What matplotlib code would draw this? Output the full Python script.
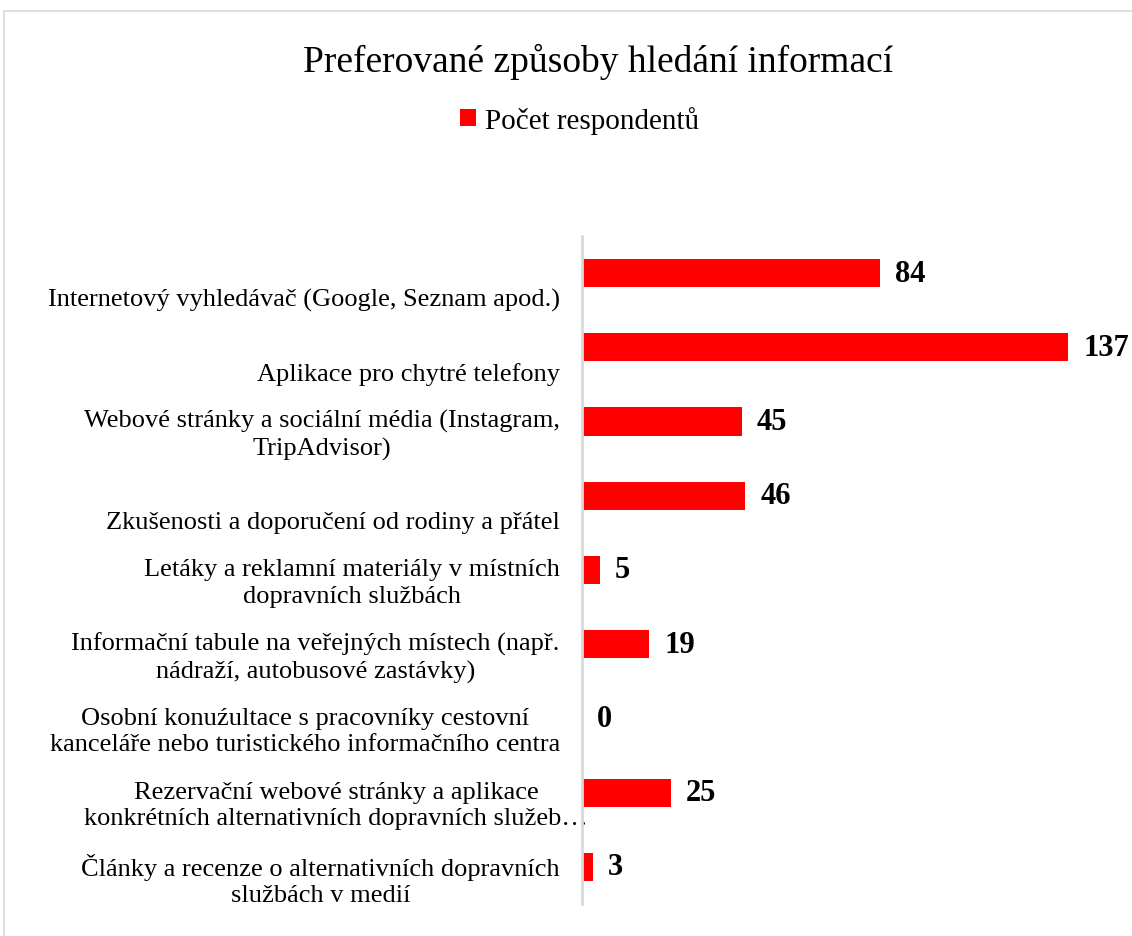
import matplotlib.pyplot as plt
import matplotlib.transforms as mtransforms
from matplotlib.patches import Rectangle

plt.rcParams['font.family'] = ['Liberation Serif', 'DejaVu Serif']

# data
categories = [
    "\nInternetový vyhledávač (Google, Seznam apod.)",
    "\nAplikace pro chytré telefony",
    "Webové stránky a sociální média (Instagram,\nTripAdvisor)",
    "\nZkušenosti a doporučení od rodiny a přátel",
    "Letáky a reklamní materiály v místních\ndopravních službách",
    "Informační tabule na veřejných místech (např.\nnádraží, autobusové zastávky)",
    "Osobní konuźultace s pracovníky cestovní\nkanceláře nebo turistického informačního centra",
    "Rezervační webové stránky a aplikace\nkonkrétních alternativních dopravních služeb…",
    "Články a recenze o alternativních dopravních\nslužbách v medií",
]
values = [84, 137, 45, 46, 5, 19, 0, 25, 3]
series_name = "Počet respondentů"
title = "Preferované způsoby hledání informací"

fig = plt.figure(figsize=(11.32, 9.37), dpi=100)
ax = fig.add_axes([582/1132, 1-905/937, 1-582/1132, (905-237)/937])

# chart border
fig.patches.append(Rectangle((4/1132, -0.1), 2, 1.1 - 12/937, transform=fig.transFigure,
                             fill=False, edgecolor='#d9d9d9', linewidth=1.2))

pos = list(range(len(values)))
bars = ax.barh(pos, values, height=0.38, color='#ff0000', label=series_name)
ax.set_ylim(len(values) - 0.5, -0.5)
ax.set_xlim(0, 155)

for p, v in zip(pos, values):
    ax.annotate(str(v), (v, p), xytext=(11, 0), textcoords='offset points',
                ha='left', va='center', fontsize=22, fontweight='bold')

ax.set_yticks(pos)
ax.set_yticklabels(categories, fontsize=19, linespacing=1.25, ha='right', multialignment='center')
ax.tick_params(axis='y', length=0, pad=16)
shift = mtransforms.ScaledTranslation(0, -8/100, fig.dpi_scale_trans)
for lab in ax.get_yticklabels():
    lab.set_transform(lab.get_transform() + shift)
# last-but-one label overruns a little towards the axis
ax.get_yticklabels()[7].set_transform(ax.get_yticklabels()[7].get_transform()
                                      + mtransforms.ScaledTranslation(0.28, 0, fig.dpi_scale_trans))

ax.set_xticks([])
for s in ['top', 'right', 'bottom']:
    ax.spines[s].set_visible(False)
ax.spines['left'].set_color('#d9d9d9')
ax.spines['left'].set_linewidth(2)

fig.text(0.528, 1-62/937, title, ha='center', va='center', fontsize=27)
fig.legend(handles=[bars], labels=[series_name], loc='center', bbox_to_anchor=(0.512, 1-121/937),
           frameon=False, fontsize=21, handlelength=0.55, handleheight=0.55, handletextpad=0.3)

fig.savefig('out.png', dpi=100)
